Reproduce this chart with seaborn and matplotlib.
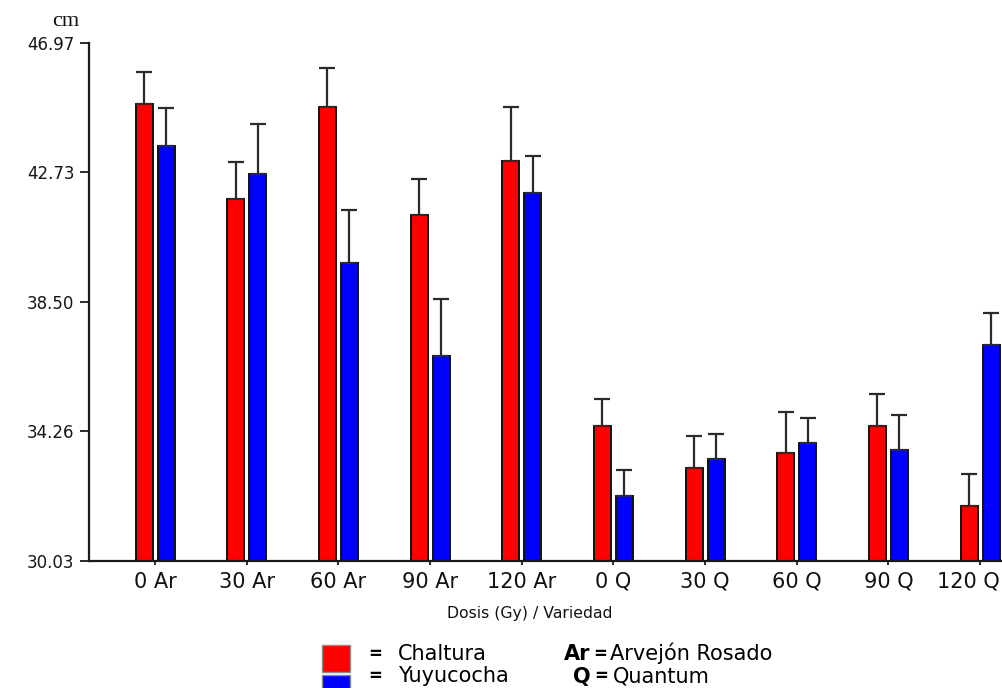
import numpy as np
import pandas as pd
import matplotlib
matplotlib.use("Agg")
import matplotlib.pyplot as plt
from matplotlib.patches import Rectangle
from matplotlib.transforms import ScaledTranslation
import seaborn as sns

# Plant height (cm) by dose and variety, mean and standard error
categories = ["0 Ar", "30 Ar", "60 Ar", "90 Ar", "120 Ar",
              "0 Q", "30 Q", "60 Q", "90 Q", "120 Q"]
chaltura = [44.95, 41.86, 44.86, 41.35, 43.10, 34.43, 33.07, 33.55, 34.43, 31.83]
chaltura_err = [1.07, 1.20, 1.29, 1.17, 1.77, 0.90, 1.03, 1.34, 1.04, 1.03]
yuyucocha = [43.59, 42.68, 39.77, 36.72, 42.05, 32.14, 33.37, 33.89, 33.65, 37.08]
yuyucocha_err = [1.23, 1.62, 1.73, 1.87, 1.20, 0.85, 0.80, 0.82, 1.14, 1.06]
series = ["Chaltura", "Yuyucocha"]
y_ticks = [30.03, 34.26, 38.50, 42.73, 46.97]

sns.set_style("white")
plt.rcParams["font.family"] = ["DejaVu Sans"]
plt.rcParams["text.color"] = "#000000"

df = pd.DataFrame({
    "dosis": categories * 2,
    "altura": chaltura + yuyucocha,
    "variedad": [series[0]] * len(categories) + [series[1]] * len(categories),
})
errors = {series[0]: chaltura_err, series[1]: yuyucocha_err}

W, H = 1003, 688
fig = plt.figure(figsize=(W / 100, H / 100), dpi=100)
ax = fig.add_axes([89 / W, 1 - 560.7 / H, 1 - 89 / W, (560.7 - 42.7) / H])

palette = {series[0]: "#ff0000", series[1]: "#0000ff"}
sns.barplot(data=df, x="dosis", y="altura", hue="variedad", order=categories,
            hue_order=series, palette=palette, errorbar=None, width=0.48,
            gap=0.227, saturation=1, edgecolor="#111111", linewidth=1.4,
            legend=False, ax=ax)

# upper-only error bars on each bar
for name, container in zip(series, ax.containers):
    xs = [b.get_x() + b.get_width() / 2 for b in container]
    hs = [b.get_height() for b in container]
    errs = errors[name]
    ax.errorbar(xs, hs, yerr=[np.zeros(len(errs)), errs], fmt="none",
                ecolor="#2a2a2a", elinewidth=1.6, capsize=5.8, capthick=1.6,
                zorder=1)

ax.set_ylim(30.03, 46.97)
ax.set_xlim(-0.72, 9.25)
ax.set_yticks(y_ticks)
ax.set_yticklabels([f"{v:.2f}" for v in y_ticks])

for side in ("top", "right"):
    ax.spines[side].set_visible(False)
for side in ("left", "bottom"):
    ax.spines[side].set_linewidth(1.6)
    ax.spines[side].set_color("#1a1a1a")

ax.tick_params(axis="y", direction="out", length=6.5, width=1.3,
               color="#1a1a1a", labelsize=12, pad=4, labelcolor="#151515")
ax.tick_params(axis="x", direction="out", length=3, width=1.3,
               color="#1a1a1a", labelsize=15, pad=5, labelcolor="#111111")
ax.tick_params(left=True, bottom=True)

# keep the last category label inside the right edge
last = ax.get_xticklabels()[-1]
last.set_transform(last.get_transform()
                   + ScaledTranslation(-12 / 100, 0, fig.dpi_scale_trans))

ax.set_xlabel("Dosis (Gy) / Variedad", fontsize=11.3, color="#111111")
ax.xaxis.set_label_coords(0.4825, -0.087)
ax.xaxis.label.set_va("top")
ax.set_ylabel("cm", rotation=0, fontsize=16, family="Liberation Serif",
              color="#111111")
ax.yaxis.set_label_coords(-0.0257, 1.04)
ax.yaxis.label.set_va("center")
ax.yaxis.label.set_ha("center")

# legend key drawn in figure pixel coordinates
def fx(px):
    return px / W

def fy(py):
    return 1 - py / H

for y_top, color in ((645, "#ff0000"), (675, "#0000ff")):
    fig.patches.append(Rectangle((fx(321.7), fy(y_top + 27)), 28.3 / W,
                                 27 / H, transform=fig.transFigure,
                                 facecolor=color, edgecolor="#8a8a8a",
                                 linewidth=1.0))

leg_fs = 15
eq = dict(fontsize=12, fontweight="bold", ha="center", va="baseline")
row1, row2 = 660, 682.5
eq_lift = 1.0

fig.text(fx(375.5), fy(row1 - eq_lift), "=", **eq)
fig.text(fx(375.5), fy(row2 - eq_lift), "=", **eq)
fig.text(fx(398), fy(row1), series[0], fontsize=leg_fs, ha="left", va="baseline")
fig.text(fx(398), fy(row2), series[1], fontsize=leg_fs, ha="left", va="baseline")

fig.text(fx(590), fy(row1), "Ar", fontsize=leg_fs, fontweight="bold",
         ha="right", va="baseline")
fig.text(fx(600), fy(row1 - eq_lift), "=", **eq)
fig.text(fx(610), fy(row1), "Arvejón Rosado", fontsize=leg_fs, ha="left",
         va="baseline")
fig.text(fx(591), fy(row2), "Q", fontsize=leg_fs, fontweight="bold",
         ha="right", va="baseline")
fig.text(fx(601.5), fy(row2 - eq_lift), "=", **eq)
fig.text(fx(612.5), fy(row2), "Quantum", fontsize=leg_fs, ha="left",
         va="baseline")

fig.savefig("out.png", dpi=100)
